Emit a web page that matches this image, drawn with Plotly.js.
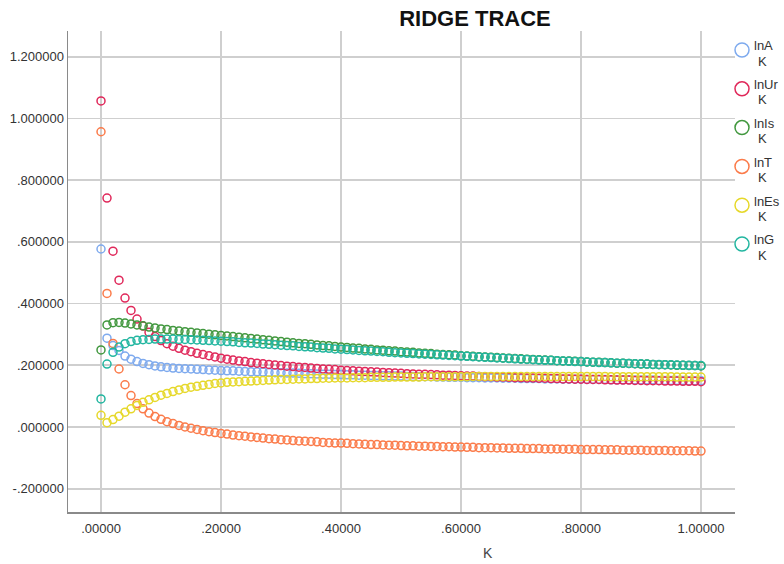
<!DOCTYPE html>
<html>
<head>
<meta charset="utf-8">
<script src="https://cdn.plot.ly/plotly-3.0.1.min.js"></script>
<style>html,body{margin:0;padding:0;background:#fff;}#chart{width:784px;height:564px;}</style>
</head>
<body>
<div id="chart"></div>
<script>
// ---- data ----
var K = [0.00,0.01,0.02,0.03,0.04,0.05,0.06,0.07,0.08,0.09,
0.10,0.11,0.12,0.13,0.14,0.15,0.16,0.17,0.18,0.19,
0.20,0.21,0.22,0.23,0.24,0.25,0.26,0.27,0.28,0.29,
0.30,0.31,0.32,0.33,0.34,0.35,0.36,0.37,0.38,0.39,
0.40,0.41,0.42,0.43,0.44,0.45,0.46,0.47,0.48,0.49,
0.50,0.51,0.52,0.53,0.54,0.55,0.56,0.57,0.58,0.59,
0.60,0.61,0.62,0.63,0.64,0.65,0.66,0.67,0.68,0.69,
0.70,0.71,0.72,0.73,0.74,0.75,0.76,0.77,0.78,0.79,
0.80,0.81,0.82,0.83,0.84,0.85,0.86,0.87,0.88,0.89,
0.90,0.91,0.92,0.93,0.94,0.95,0.96,0.97,0.98,0.99,1.00];

var lnA = [0.577,0.288,0.264,0.248,0.230,0.220,0.212,0.206,0.202,0.198,
0.195,0.193,0.191,0.190,0.189,0.188,0.187,0.186,0.185,0.184,
0.183,0.182,0.182,0.181,0.180,0.179,0.179,0.178,0.177,0.176,
0.176,0.175,0.175,0.174,0.173,0.173,0.172,0.171,0.171,0.170,
0.170,0.169,0.169,0.168,0.168,0.167,0.167,0.166,0.166,0.165,
0.165,0.164,0.164,0.163,0.163,0.163,0.162,0.162,0.161,0.161,
0.161,0.160,0.160,0.160,0.159,0.159,0.159,0.158,0.158,0.158,
0.157,0.157,0.157,0.157,0.156,0.156,0.156,0.155,0.155,0.155,
0.155,0.154,0.154,0.154,0.154,0.153,0.153,0.153,0.153,0.152,
0.152,0.152,0.152,0.151,0.151,0.151,0.151,0.151,0.150,0.150,0.150];

var lnUr = [1.057,0.742,0.570,0.476,0.418,0.378,0.350,0.327,0.307,0.293,
0.280,0.270,0.262,0.255,0.249,0.244,0.239,0.235,0.231,0.227,
0.223,0.220,0.217,0.214,0.212,0.209,0.207,0.205,0.203,0.201,
0.199,0.197,0.196,0.194,0.193,0.191,0.190,0.188,0.187,0.186,
0.184,0.183,0.182,0.181,0.180,0.179,0.178,0.177,0.176,0.175,
0.174,0.173,0.172,0.171,0.171,0.170,0.169,0.168,0.168,0.167,
0.166,0.165,0.165,0.164,0.163,0.163,0.162,0.162,0.161,0.160,
0.160,0.159,0.159,0.158,0.158,0.157,0.157,0.156,0.156,0.155,
0.155,0.154,0.154,0.154,0.153,0.153,0.152,0.152,0.152,0.151,
0.151,0.150,0.150,0.150,0.149,0.149,0.149,0.148,0.148,0.148,0.147];

var lnIs = [0.250,0.331,0.338,0.339,0.337,0.334,0.331,0.328,0.324,0.321,
0.318,0.316,0.313,0.311,0.309,0.307,0.305,0.303,0.301,0.299,
0.297,0.295,0.293,0.291,0.289,0.287,0.285,0.283,0.281,0.279,
0.277,0.275,0.273,0.271,0.270,0.268,0.266,0.264,0.263,0.261,
0.259,0.258,0.256,0.255,0.253,0.252,0.250,0.249,0.247,0.246,
0.244,0.243,0.242,0.240,0.239,0.238,0.236,0.235,0.234,0.233,
0.231,0.230,0.229,0.228,0.227,0.226,0.225,0.224,0.223,0.222,
0.221,0.220,0.219,0.218,0.217,0.216,0.215,0.214,0.214,0.213,
0.212,0.211,0.210,0.210,0.209,0.208,0.207,0.207,0.206,0.205,
0.204,0.204,0.203,0.202,0.202,0.201,0.200,0.200,0.199,0.199,0.198];

var lnT = [0.957,0.433,0.271,0.188,0.137,0.102,0.076,0.059,0.045,0.034,
0.025,0.017,0.011,0.005,0.000,-0.004,-0.008,-0.012,-0.015,-0.018,
-0.021,-0.023,-0.026,-0.028,-0.030,-0.032,-0.034,-0.036,-0.038,-0.039,
-0.041,-0.042,-0.044,-0.045,-0.046,-0.047,-0.048,-0.050,-0.051,-0.052,
-0.052,-0.053,-0.054,-0.055,-0.056,-0.057,-0.057,-0.058,-0.059,-0.059,
-0.060,-0.061,-0.061,-0.062,-0.062,-0.063,-0.063,-0.064,-0.064,-0.065,
-0.065,-0.066,-0.066,-0.067,-0.067,-0.067,-0.068,-0.068,-0.069,-0.069,
-0.069,-0.070,-0.070,-0.070,-0.071,-0.071,-0.071,-0.072,-0.072,-0.072,
-0.073,-0.073,-0.073,-0.073,-0.074,-0.074,-0.074,-0.075,-0.075,-0.075,
-0.075,-0.076,-0.076,-0.076,-0.076,-0.077,-0.077,-0.077,-0.077,-0.078,-0.078];

var lnEs = [0.038,0.014,0.024,0.035,0.048,0.059,0.070,0.080,0.088,0.096,
0.103,0.109,0.115,0.120,0.125,0.129,0.132,0.135,0.138,0.141,
0.143,0.145,0.146,0.147,0.148,0.149,0.150,0.151,0.152,0.153,
0.154,0.154,0.155,0.156,0.156,0.157,0.157,0.158,0.158,0.159,
0.159,0.159,0.160,0.160,0.160,0.161,0.161,0.161,0.161,0.162,
0.162,0.162,0.162,0.162,0.163,0.163,0.163,0.163,0.163,0.163,
0.163,0.163,0.164,0.164,0.164,0.164,0.164,0.164,0.164,0.164,
0.164,0.164,0.164,0.164,0.164,0.164,0.164,0.164,0.164,0.164,
0.164,0.164,0.164,0.164,0.164,0.163,0.163,0.163,0.163,0.163,
0.163,0.163,0.163,0.163,0.163,0.163,0.162,0.162,0.162,0.162,0.162];

var lnG = [0.091,0.204,0.242,0.259,0.270,0.277,0.281,0.283,0.284,0.285,
0.285,0.285,0.285,0.284,0.284,0.283,0.282,0.281,0.280,0.279,
0.278,0.277,0.276,0.274,0.273,0.272,0.271,0.269,0.268,0.267,
0.265,0.264,0.263,0.261,0.260,0.259,0.257,0.256,0.255,0.253,
0.252,0.251,0.250,0.248,0.247,0.246,0.245,0.244,0.242,0.241,
0.240,0.239,0.238,0.237,0.236,0.235,0.234,0.233,0.232,0.231,
0.230,0.229,0.228,0.227,0.226,0.225,0.224,0.223,0.222,0.221,
0.220,0.219,0.218,0.217,0.216,0.216,0.215,0.214,0.213,0.212,
0.212,0.211,0.210,0.209,0.209,0.208,0.207,0.207,0.206,0.205,
0.205,0.204,0.203,0.203,0.202,0.202,0.201,0.200,0.200,0.199,0.199];

var seriesNames = ["lnA","lnUr","lnIs","lnT","lnEs","lnG"];
var seriesColors = ["#7eaaee","#e0285a","#42983f","#fb7b4a","#e6d82a","#22b6a0"];
var seriesValues = [lnA, lnUr, lnIs, lnT, lnEs, lnG];

var xTickVals = [0, 0.2, 0.4, 0.6, 0.8, 1.0];
var xTickText = [".00000", ".20000", ".40000", ".60000", ".80000", "1.00000"];
var yTickVals = [-0.2, 0, 0.2, 0.4, 0.6, 0.8, 1.0, 1.2];
var yTickText = ["-.200000", ".000000", ".200000", ".400000", ".600000", ".800000", "1.000000", "1.200000"];

// ---- layout geometry (pixels) ----
var W = 784, H = 564;
var plotL = 68, plotR = 735, plotT = 31, plotB = 512;
function px2paperX(px){ return (px - plotL) / (plotR - plotL); }
function px2paperY(py){ return (plotB - py) / (plotB - plotT); }

var FONT = "Liberation Sans, Arial, sans-serif";

var traces = seriesNames.map(function(n, i){
  return {
    type: "scatter", mode: "markers", name: n,
    x: K, y: seriesValues[i],
    marker: {symbol: "circle-open", size: 8, color: seriesColors[i], line: {width: 1.5, color: seriesColors[i]}},
    showlegend: false, hoverinfo: "x+y+name"
  };
});

// manual legend
var shapes = [], annotations = [];
seriesNames.forEach(function(n, i){
  var cy = 50 + 38.8 * i;
  shapes.push({type: "circle", xref: "paper", yref: "paper",
    xsizemode: "pixel", ysizemode: "pixel",
    xanchor: px2paperX(742), yanchor: px2paperY(cy),
    x0: -7, x1: 7, y0: -7, y1: 7,
    line: {color: seriesColors[i], width: 1.5}, fillcolor: "rgba(0,0,0,0)"});
  annotations.push({xref: "paper", yref: "paper", x: px2paperX(752), y: px2paperY(cy - 4),
    xanchor: "left", yanchor: "middle", showarrow: false, text: n,
    font: {family: FONT, size: 13, color: "#333"}});
  annotations.push({xref: "paper", yref: "paper", x: px2paperX(756), y: px2paperY(cy + 11),
    xanchor: "left", yanchor: "middle", showarrow: false, text: "K",
    font: {family: FONT, size: 13, color: "#333"}});
});
// x-axis title "K"
annotations.push({xref: "paper", yref: "paper", x: px2paperX(488), y: px2paperY(553),
  xanchor: "center", yanchor: "middle", showarrow: false, text: "K",
  font: {family: FONT, size: 14, color: "#444"}});

var layout = {
  width: W, height: H,
  margin: {l: plotL, r: W - plotR, t: plotT, b: H - plotB, pad: 0},
  paper_bgcolor: "#ffffff", plot_bgcolor: "#ffffff",
  title: {text: "<b>RIDGE TRACE</b>", x: 475 / W, xref: "container", xanchor: "center",
          y: 1 - 18 / H, yref: "container", yanchor: "middle",
          font: {family: FONT, size: 22, color: "#111"}},
  showlegend: false,
  xaxis: {range: [-0.055, 1.0567], tickvals: xTickVals, ticktext: xTickText,
          showgrid: true, gridcolor: "#cfcfcf", gridwidth: 1.7, zeroline: false,
          showline: true, linecolor: "#8a8a8a", linewidth: 1.5, ticks: "",
          ticklabelstandoff: 4,
          tickfont: {family: FONT, size: 13, color: "#333"}, fixedrange: true},
  yaxis: {range: [-0.2755, 1.2836], tickvals: yTickVals, ticktext: yTickText,
          showgrid: true, gridcolor: "#cfcfcf", gridwidth: 1.7, zeroline: false,
          showline: true, linecolor: "#8a8a8a", linewidth: 1.5, ticks: "",
          tickfont: {family: FONT, size: 13, color: "#333"}, fixedrange: true},
  shapes: shapes,
  annotations: annotations
};

Plotly.newPlot("chart", traces, layout, {displayModeBar: false, staticPlot: true});
</script>
</body>
</html>
